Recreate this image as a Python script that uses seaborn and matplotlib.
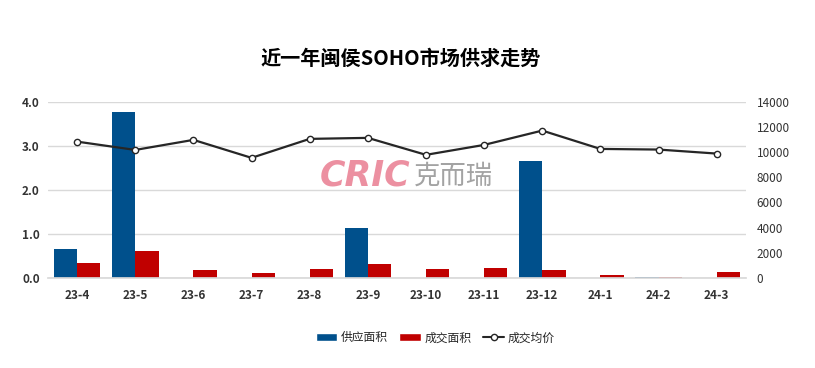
import matplotlib
matplotlib.use("Agg")
import matplotlib.pyplot as plt
import seaborn as sns
import pandas as pd
import numpy as np
from matplotlib.lines import Line2D
from matplotlib.patches import Patch

months = ["23-4", "23-5", "23-6", "23-7", "23-8", "23-9", "23-10", "23-11", "23-12", "24-1", "24-2", "24-3"]
supply = [0.66, 3.77, 0.0, 0.0, 0.0, 1.14, 0.0, 0.0, 2.66, 0.0, 0.01, 0.0]
deal = [0.34, 0.61, 0.18, 0.11, 0.20, 0.32, 0.20, 0.22, 0.18, 0.07, 0.02, 0.14]
price = [10840, 10180, 10980, 9550, 11060, 11140, 9790, 10580, 11720, 10260, 10210, 9890]
series_names = ["供应面积", "成交面积", "成交均价"]
title = "近一年闽侯SOHO市场供求走势"

sns.set_theme(style="white")
plt.rcParams['font.family'] = ['Noto Sans CJK SC', 'DejaVu Sans']

blue = "#00508C"
red = "#C00000"
line_c = "#262626"

df = pd.DataFrame({
    "month": months * 2,
    "value": supply + deal,
    "kind": [series_names[0]] * len(months) + [series_names[1]] * len(months),
})

fig = plt.figure(figsize=(8.15, 3.68), dpi=100)
ax = fig.add_axes([0.059, 0.245, 0.856, 0.478])
sns.barplot(data=df, x="month", y="value", hue="kind", palette=[blue, red],
            width=0.8, ax=ax, legend=False, saturation=1, linewidth=0, edgecolor="none")
ax.set_ylim(0, 4.0)
ax.set_yticks([0, 1, 2, 3, 4])
ax.set_yticklabels([f"{v:.1f}" for v in [0, 1, 2, 3, 4]], fontsize=8.5, fontweight="bold", color="#333333")
ax.set_xlim(-0.5, len(months) - 0.5)
ax.set_xlabel("")
ax.set_ylabel("")
ax.tick_params(axis="x", labelsize=8.5, colors="#333333", length=0, pad=8)
for lbl in ax.get_xticklabels():
    lbl.set_fontweight("bold")
ax.tick_params(axis="y", length=0, pad=6)
ax.grid(axis="y", color="#D9D9D9", linewidth=1)
ax.set_axisbelow(True)
for s in ["top", "right", "left"]:
    ax.spines[s].set_visible(False)
ax.spines["bottom"].set_color("#D9D9D9")

ax2 = ax.twinx()
sns.lineplot(x=np.arange(len(months)), y=price, ax=ax2, color=line_c, linewidth=1.6,
             marker="o", markersize=4.5, markerfacecolor="white", markeredgecolor=line_c,
             markeredgewidth=1.0)
ax2.set_ylim(0, 14000)
ax2.set_yticks(range(0, 14001, 2000))
ax2.set_yticklabels([str(v) for v in range(0, 14001, 2000)], fontsize=8.5, color="#333333")
ax2.tick_params(axis="y", length=0, pad=8)
for s in ["top", "right", "left", "bottom"]:
    ax2.spines[s].set_visible(False)
ax2.set_ylabel("")

# watermark
fig.text(0.503, 0.522, "CRIC", fontsize=25, fontweight="bold", fontstyle="italic",
         color="#E8758A", alpha=0.8, ha="right", va="center", family=["DejaVu Sans"])
fig.text(0.508, 0.522, "克而瑞", fontsize=19, color="#999999", alpha=0.9, ha="left", va="center")

fig.text(0.492, 0.842, title, fontsize=14.5, fontweight="bold", ha="center", va="center", color="black")

handles = [Patch(facecolor=blue, label=series_names[0]),
           Patch(facecolor=red, label=series_names[1]),
           Line2D([0], [0], color=line_c, marker="o", markerfacecolor="white",
                  markeredgecolor=line_c, markersize=4.5, label=series_names[2])]
fig.legend(handles=handles, loc="center", bbox_to_anchor=(0.534, 0.082), ncol=3, frameon=False,
           fontsize=8.5, handlelength=1.8, handleheight=0.6, columnspacing=1.0, handletextpad=0.3)

fig.savefig("out.png", dpi=100, facecolor="white")
